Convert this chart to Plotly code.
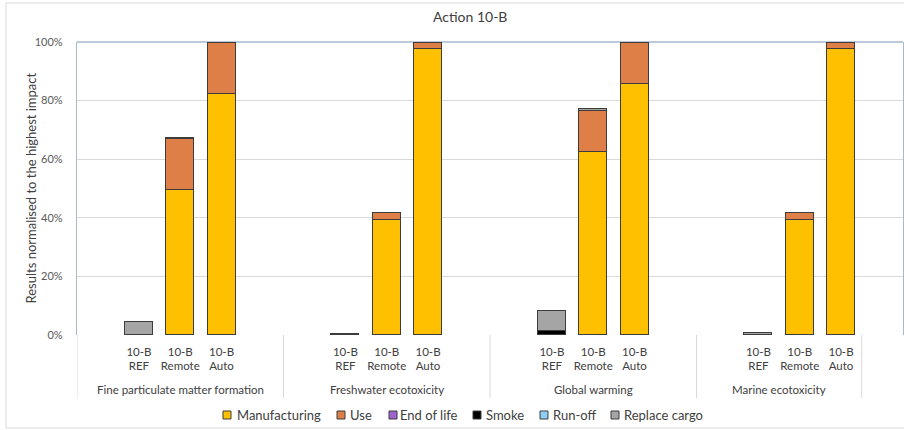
import plotly.graph_objects as go

# Canvas and plot-area geometry (pixels)
W, H = 904, 430
L, R, T, B = 77, 1, 42, 95
PW = W - L - R
PH = H - T - B

# Impact categories and scenarios
groups = [
    "Fine particulate matter formation",
    "Freshwater ecotoxicity",
    "Global warming",
    "Marine ecotoxicity",
]
scenarios = ["10-B<br>REF", "10-B<br>Remote", "10-B<br>Auto"]

# Life-cycle stage contributions, % of highest impact (REF, Remote, Auto per category)
manufacturing = [0, 49.5, 82.2,   0, 39.2, 97.6,   0, 62.4, 85.7,   0, 39.1, 97.5]
use =           [0, 17.3, 17.6,   0, 2.3, 1.9,     0, 13.9, 13.9,   0, 2.4, 2.0]
end_of_life =   [0, 0.0, 0.1,     0, 0.0, 0.1,     0, 0.0, 0.1,     0, 0.0, 0.1]
smoke =         [0, 0.0, 0.0,     0, 0.0, 0.0,     1.2, 0.0, 0.0,   0, 0.0, 0.0]
run_off =       [0, 0.0, 0.0,     0, 0.0, 0.0,     0, 0.0, 0.0,     0, 0.0, 0.0]
replace_cargo = [4.4, 0.6, 0.2,   0.4, 0.2, 0.2,   7.0, 0.9, 0.3,   0.6, 0.2, 0.4]

series_names = ["Manufacturing", "Use", "End of life", "Smoke", "Run-off", "Replace cargo"]
series_values = [manufacturing, use, end_of_life, smoke, run_off, replace_cargo]
series_colors = ["#FFC000", "#DE7F47", "#9E63CF", "#000000", "#8ED0F5", "#A5A5A5"]

# Slot layout on the category axis: each category occupies a run of slots,
# with an empty slot before the three scenarios
group_start = [0, 5, 10, 15]
group_bounds = [-0.5, 4.5, 9.5, 14.5, 18.5]
x_pos = [group_start[g] + 1 + s for g in range(len(groups)) for s in range(len(scenarios))]
x_text = [scenarios[s] for g in range(len(groups)) for s in range(len(scenarios))]


def px_x(px):
    return (px - L) / PW


def px_y(py):
    return (H - B - py) / PH


FONT = "Lato"

fig = go.Figure()
for name, vals, col in zip(series_names, series_values, series_colors):
    fig.add_trace(go.Bar(
        name=name,
        x=x_pos,
        y=[v / 100 if v else None for v in vals],
        width=0.68,
        marker=dict(color=col, line=dict(color="#3C3C3C", width=1)),
        showlegend=False,
    ))

shapes = []
annotations = []

# Vertical separators between categories below the plot
for xb in group_bounds:
    shapes.append(dict(type="line", xref="x", yref="paper", x0=xb, x1=xb,
                       y0=0, y1=px_y(398), line=dict(color="#D9D9D9", width=1)))

# Top border of the plot area
shapes.append(dict(type="line", xref="paper", yref="paper", x0=0, x1=1, y0=1, y1=1,
                   line=dict(color="#A7B9CC", width=1.3), layer="below"))

# Outer chart frame
shapes.append(dict(type="rect", xref="paper", yref="paper",
                   x0=px_x(6), x1=px_x(912), y0=px_y(428), y1=px_y(3),
                   line=dict(color="#D9D9D9", width=1)))

# Category labels
for g, name in enumerate(groups):
    cx = (group_bounds[g] + group_bounds[g + 1]) / 2
    annotations.append(dict(x=cx, xref="x", y=px_y(389), yref="paper", text=name,
                            showarrow=False, xanchor="center", yanchor="middle",
                            font=dict(family=FONT, size=11.5, color="#404040")))

# Legend entries
leg_square = [223, 337, 389, 473, 540, 611]
leg_text = [235, 348, 398, 484, 551, 622]
for name, col, sx, tx in zip(series_names, series_colors, leg_square, leg_text):
    shapes.append(dict(type="rect", xref="paper", yref="paper",
                       x0=px_x(sx), x1=px_x(sx + 8), y0=px_y(419), y1=px_y(411),
                       fillcolor=col, line=dict(color="#3C3C3C", width=1)))
    annotations.append(dict(x=px_x(tx), y=px_y(415), xref="paper", yref="paper",
                            text=name, showarrow=False, xanchor="left", yanchor="middle",
                            font=dict(family=FONT, size=13, color="#404040")))

# Chart title
annotations.append(dict(x=px_x(470), y=px_y(16), xref="paper", yref="paper",
                        text="Action 10-B", showarrow=False, xanchor="center",
                        yanchor="middle", font=dict(family=FONT, size=14, color="#404040")))

# Value-axis title
annotations.append(dict(x=px_x(30), y=0.5, xref="paper", yref="paper",
                        text="Results normalised to the highest impact", textangle=-90,
                        showarrow=False, xanchor="center", yanchor="middle",
                        font=dict(family=FONT, size=13, color="#404040")))

fig.update_layout(
    width=W, height=H,
    margin=dict(l=L, r=R, t=T, b=B, pad=0),
    barmode="stack",
    bargap=0,
    plot_bgcolor="white",
    paper_bgcolor="white",
    shapes=shapes,
    annotations=annotations,
    font=dict(family=FONT, color="#595959"),
)
fig.update_xaxes(
    range=[-0.5, 19.5],
    tickvals=x_pos,
    ticktext=x_text,
    tickfont=dict(family=FONT, size=11.5, color="#404040"),
    showgrid=False,
    zeroline=False,
    showline=False,
    ticks="",
    ticklabelstandoff=8,
)
fig.update_yaxes(
    range=[0, 1],
    tickvals=[0, 0.2, 0.4, 0.6, 0.8, 1.0],
    tickformat=".0%",
    tickfont=dict(family=FONT, size=11, color="#595959"),
    showgrid=True,
    gridcolor="#D9D9D9",
    zeroline=False,
    showline=True,
    mirror=True,
    linecolor="#A7B9CC",
    linewidth=1.3,
    ticks="",
    ticklabelstandoff=11,
)

fig.write_html("out.html")
